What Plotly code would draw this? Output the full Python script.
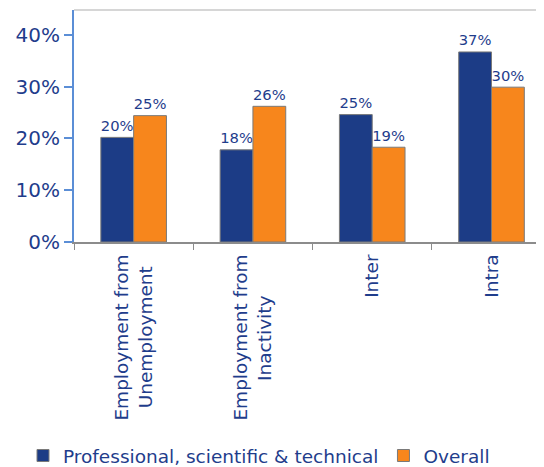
import plotly.graph_objects as go

NB = "\u00a0"
categories = ["Employment from<br>Unemployment" + NB * 2,
              "Employment from<br>Inactivity" + NB * 7,
              "Inter", "Intra"]
prof_values = [20.2, 17.8, 24.6, 36.7]
overall_values = [24.4, 26.2, 18.3, 29.9]
prof_labels = ["20%", "18%", "25%", "37%"]
overall_labels = ["25%", "26%", "19%", "30%"]
y_ticks = [0, 10, 20, 30, 40]
y_tick_labels = ["0%", "10%", "20%", "30%", "40%"]

TEXT = "#1F3D8C"
FONT = "DejaVu Sans"

fig = go.Figure()
fig.add_trace(go.Bar(
    x=categories, y=prof_values, name="Professional, scientific & technical",
    text=prof_labels, textposition="outside", cliponaxis=False,
    textfont=dict(size=17, color=TEXT, family=FONT),
    marker=dict(color="#1C3C86", line=dict(color="#7A7A7A", width=1)),
))
fig.add_trace(go.Bar(
    x=categories, y=overall_values, name="Overall",
    text=overall_labels, textposition="outside", cliponaxis=False,
    textfont=dict(size=17, color=TEXT, family=FONT),
    marker=dict(color="#F7861C", line=dict(color="#7A7A7A", width=1)),
))

fig.update_layout(
    width=536, height=459,
    margin=dict(l=66, r=0, t=2, b=225, autoexpand=False),
    paper_bgcolor="white", plot_bgcolor="white",
    barmode="group", bargap=0.45, bargroupgap=0,
    font=dict(family=FONT, color=TEXT, size=18),
    showlegend=True,
    legend=dict(orientation="h", xref="container", yref="container",
                x=0.028, xanchor="left", y=0.024, yanchor="middle",
                font=dict(size=18.5, color=TEXT, family=FONT), itemwidth=30,
                bgcolor="rgba(0,0,0,0)"),
    xaxis=dict(
        range=[-0.5, 3.44], tickangle=-90, showline=True, linecolor="#8C8C8C", linewidth=2,
        ticks="outside", tickson="boundaries", ticklen=6, tickcolor="#8C8C8C", tickwidth=1,
        tickfont=dict(size=18.5, color=TEXT, family=FONT), showgrid=False, zeroline=False,
        automargin=False, ticklabelstandoff=3,
    ),
    yaxis=dict(
        range=[0, 44.8], tickvals=y_ticks, ticktext=y_tick_labels,
        showline=True, linecolor="#5B8ED6", linewidth=2,
        ticks="outside", ticklen=8, tickcolor="#5B8ED6", tickwidth=2,
        tickfont=dict(size=20, color=TEXT, family=FONT), showgrid=False, zeroline=False,
        automargin=False,
    ),
    shapes=[dict(type="line", xref="paper", yref="paper", x0=0, x1=1, y0=1, y1=1,
                 line=dict(color="#D6D6D6", width=2))],
)

fig.write_html("out.html")
